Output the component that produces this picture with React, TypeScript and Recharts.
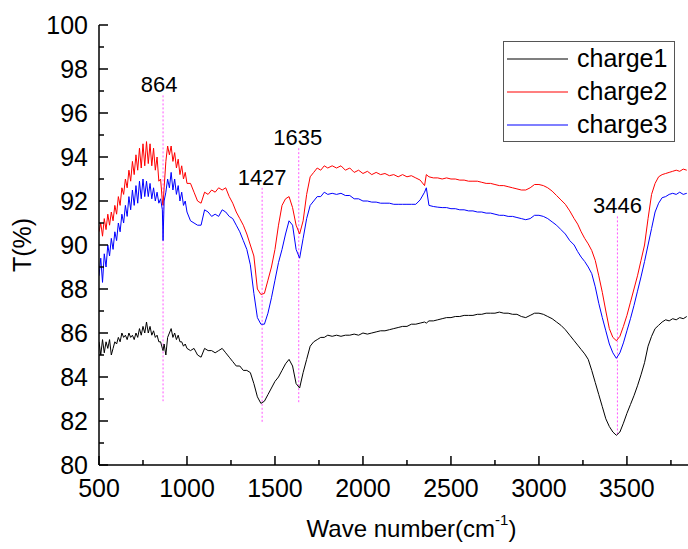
import { LineChart, Line, XAxis, YAxis, ReferenceLine, Legend } from "recharts";

const FONT = "'Liberation Sans', Arial, sans-serif";

// wavenumber grid (cm-1)
const WAVE = [
  500, 510, 520, 530, 540, 550, 560, 570, 580, 590,
  600, 610, 620, 630, 640, 650, 660, 670, 680, 690,
  700, 710, 720, 730, 740, 750, 760, 770, 780, 790,
  800, 810, 820, 830, 840, 850, 860, 864,
  870, 880, 890, 900, 910, 920, 930, 940, 950, 960, 970, 980, 990, 1000,
  1020, 1040, 1060, 1080, 1100, 1120, 1140, 1160, 1180, 1200,
  1220, 1240, 1260, 1280, 1300, 1320, 1340, 1360, 1380, 1400,
  1420, 1440, 1460, 1480, 1500, 1520, 1540, 1560, 1580, 1600,
  1620, 1640, 1660, 1680, 1700, 1720, 1740, 1760, 1780, 1800,
  1825, 1850, 1875, 1900, 1925, 1950, 1975, 2000,
  2025, 2050, 2075, 2100, 2125, 2150, 2175, 2200,
  2225, 2250, 2275, 2300, 2325, 2350, 2360,
  2375, 2400, 2425, 2450, 2475, 2500,
  2525, 2550, 2575, 2600, 2625, 2650, 2675, 2700,
  2725, 2750, 2775, 2800, 2825, 2850, 2875, 2900,
  2925, 2950, 2975, 3000, 3025, 3050, 3075, 3100,
  3125, 3150, 3175, 3200,
  3220, 3240, 3260, 3280, 3300, 3320, 3340, 3360,
  3380, 3400, 3420, 3440, 3460, 3480, 3500, 3520,
  3540, 3560, 3580, 3600, 3620, 3640, 3660, 3680,
  3700, 3720, 3740, 3760, 3780, 3800, 3820, 3840,
];

const CHARGE1 = [
  85.6, 85.0, 85.7, 85.1, 85.6, 85.3, 85.7, 85.0, 85.3, 85.6,
  85.5, 85.8, 85.6, 86.0, 85.8, 85.9, 85.7, 86.0, 85.8, 85.9,
  85.7, 86.0, 85.8, 86.2, 85.9, 86.3, 86.0, 86.5, 86.0, 86.3,
  85.9, 86.1, 85.8, 85.9, 85.6, 85.6, 85.3, 85.2,
  85.5, 85.0, 85.8, 86.0, 86.2, 85.8, 86.0, 85.7, 85.9, 85.6, 85.6, 85.4, 85.5, 85.3,
  85.2, 85.3, 85.0, 84.9, 85.3, 85.2, 85.2, 85.1, 85.2, 85.3,
  85.1, 84.9, 84.7, 84.5, 84.5, 84.3, 84.3, 84.2, 83.7, 83.1,
  82.8, 82.9, 83.2, 83.5, 83.8, 84.0, 84.3, 84.6, 84.8, 84.5,
  83.7, 83.5, 84.2, 84.8, 85.4, 85.6, 85.7, 85.8, 85.8, 85.9,
  85.85, 85.9, 85.85, 85.9, 85.9, 85.95, 85.9, 86.0,
  85.95, 86.0, 86.05, 86.1, 86.1, 86.15, 86.2, 86.25,
  86.3, 86.3, 86.4, 86.4, 86.45, 86.5, 86.45,
  86.55, 86.55, 86.6, 86.65, 86.7, 86.7,
  86.75, 86.75, 86.8, 86.8, 86.8, 86.85, 86.85, 86.9,
  86.9, 86.9, 86.95, 86.9, 86.9, 86.85, 86.85, 86.75,
  86.7, 86.8, 86.9, 86.9, 86.85, 86.75, 86.65, 86.5,
  86.35, 86.15, 85.9, 85.65,
  85.45, 85.25, 85.05, 84.8, 84.3, 83.75, 83.2, 82.65,
  82.1, 81.75, 81.5, 81.35, 81.5, 81.9, 82.35, 82.75,
  83.15, 83.6, 84.1, 84.65, 85.4, 85.85, 86.2, 86.35,
  86.5, 86.6, 86.55, 86.65, 86.6, 86.7, 86.65, 86.75,
];

const CHARGE2 = [
  90.6, 91.0, 90.4, 91.2, 90.7, 91.4, 90.9, 91.5, 91.1, 91.8,
  91.4, 92.2, 91.8, 92.6, 92.3, 93.0, 92.6, 93.4, 92.9, 93.8,
  93.2, 94.1, 93.4, 94.4, 93.5, 94.6, 93.6, 94.7, 93.7, 94.6,
  93.6, 94.4, 93.4, 94.0, 92.9, 93.0, 92.0, 91.8,
  92.6, 93.8, 94.5, 94.1, 94.5, 93.8, 94.2, 93.5, 93.9, 93.2, 93.6, 93.0, 93.3, 92.8,
  92.8, 92.4, 92.0, 91.9, 92.4, 92.3, 92.5, 92.4, 92.6, 92.5,
  92.6, 92.2, 91.9, 91.5, 91.2, 90.9, 90.5, 90.0, 89.5, 88.0,
  87.75, 87.8, 88.4, 89.0, 89.8, 90.9, 91.8, 92.1, 92.2, 91.7,
  90.9, 90.5, 91.1, 92.3, 93.1, 93.3, 93.5, 93.4, 93.6, 93.5,
  93.6, 93.5, 93.6, 93.4, 93.5, 93.3, 93.4, 93.25,
  93.35, 93.2, 93.3, 93.2, 93.25, 93.15, 93.2, 93.1,
  93.2, 93.1, 93.15, 93.05, 92.95, 92.7, 93.2,
  93.1, 93.05, 93.05, 93.0, 93.05, 93.0,
  93.0, 92.95, 92.95, 92.9, 92.9, 92.9, 92.85, 92.8,
  92.8, 92.75, 92.7, 92.7, 92.65, 92.6, 92.55, 92.5,
  92.5, 92.6, 92.75, 92.75, 92.7, 92.6, 92.45, 92.25,
  92.05, 91.85, 91.55, 91.2,
  90.95, 90.6, 90.3, 90.05, 89.75, 89.3, 88.6, 87.85,
  87.0, 86.2, 85.8, 85.65, 85.85, 86.3, 86.8, 87.4,
  88.0, 88.6, 89.3, 90.0, 91.2, 92.3, 92.8, 93.1,
  93.2, 93.25, 93.3, 93.35, 93.4, 93.35, 93.45, 93.4,
];

const CHARGE3 = [
  88.6, 89.4, 88.3, 89.6, 89.0, 90.0, 89.5, 90.3, 89.8, 90.6,
  90.2, 91.0, 90.6, 91.4, 91.0, 91.8, 91.3, 92.2, 91.6, 92.5,
  91.8, 92.7, 91.9, 92.9, 92.1, 93.0, 92.2, 92.9, 92.2, 92.8,
  92.1, 92.6, 92.0, 92.4, 91.9, 92.1, 91.6, 90.2,
  92.0, 92.4, 93.0, 92.6, 93.3, 92.5, 93.0, 92.3, 92.7, 92.0, 92.4, 91.8, 92.0, 91.5,
  91.1, 91.0, 90.9, 90.9, 91.6, 91.5, 91.3, 91.4, 91.3, 91.6,
  91.5, 91.3, 91.2, 90.9, 90.6, 90.2, 89.8, 89.1, 87.8, 86.7,
  86.4, 86.4, 86.9, 87.6, 88.4, 89.2, 89.8, 90.5, 91.1, 90.9,
  89.8, 89.4, 90.3, 91.2, 91.8, 92.0, 92.2, 92.2, 92.4, 92.3,
  92.35, 92.3, 92.35, 92.25, 92.25, 92.1, 92.1, 92.0,
  92.0, 91.95, 91.95, 91.9, 91.9, 91.9, 91.85, 91.85,
  91.85, 91.85, 91.85, 91.85, 92.05, 92.4, 92.6,
  91.8, 91.75, 91.72, 91.7, 91.7, 91.65,
  91.65, 91.6, 91.6, 91.55, 91.55, 91.5, 91.5, 91.45,
  91.45, 91.4, 91.35, 91.35, 91.3, 91.3, 91.25, 91.2,
  91.15, 91.2, 91.35, 91.35, 91.3, 91.2, 91.05, 90.9,
  90.7, 90.5, 90.2, 90.0,
  89.7, 89.45, 89.25, 89.0, 88.7, 88.1, 87.35, 86.7,
  86.1, 85.5, 85.1, 84.85, 85.1, 85.55, 86.1, 86.65,
  87.25, 87.9, 88.55, 89.25, 90.0, 90.75, 91.5, 91.9,
  92.15, 92.2, 92.3, 92.35, 92.3, 92.4, 92.3, 92.35,
];

const X_TICKS = [500, 750, 1000, 1250, 1500, 1750, 2000, 2250, 2500, 2750, 3000, 3250, 3500, 3750];
const Y_TICKS = [80, 81, 82, 83, 84, 85, 86, 87, 88, 89, 90, 91, 92, 93, 94, 95, 96, 97, 98, 99, 100];

// marked peaks: position, dotted line from top to bottom (T%), label nudge in px
const PEAKS = [864, 1427, 1635, 3446];
const PEAK_TOP = [96.8, 92.6, 94.4, 91.3];
const PEAK_BOTTOM = [82.9, 81.9, 82.8, 81.3];
const PEAK_LABEL_DX = [-4, 0, -1, 0];

const SERIES = [
  { key: "c1", name: "charge1", color: "#000000" },
  { key: "c2", name: "charge2", color: "#ff0000" },
  { key: "c3", name: "charge3", color: "#0000ff" },
];

const data = WAVE.map((w, i) => ({ wave: w, c1: CHARGE1[i], c2: CHARGE2[i], c3: CHARGE3[i] }));

const BottomTick = (p: any) => {
  const major = p.payload.value % 500 === 0;
  return (
    <g>
      <line x1={p.x} x2={p.x} y1={p.y} y2={p.y - (major ? 9 : 5)} stroke="#000" strokeWidth={1.5} />
      {major && (
        <text x={p.x} y={p.y + 32} textAnchor="middle" fontSize={25} fontFamily={FONT} fill="#000">
          {p.payload.value}
        </text>
      )}
    </g>
  );
};

const TopTick = (p: any) => {
  const major = p.payload.value % 500 === 0;
  return <line x1={p.x} x2={p.x} y1={p.y} y2={p.y + (major ? 9 : 5)} stroke="#000" strokeWidth={1.5} />;
};

const LeftTick = (p: any) => {
  const major = p.payload.value % 2 === 0;
  return (
    <g>
      <line x1={p.x} x2={p.x + (major ? 9 : 5)} y1={p.y} y2={p.y} stroke="#000" strokeWidth={1.5} />
      {major && (
        <text x={p.x - 11} y={p.y + 9} textAnchor="end" fontSize={25} fontFamily={FONT} fill="#000">
          {p.payload.value}
        </text>
      )}
    </g>
  );
};

const XTitle = (p: any) => {
  const vb = p.viewBox;
  return (
    <text x={vb.x + vb.width / 2 + 18} y={vb.y + 72} textAnchor="middle" fontSize={24} fontFamily={FONT} fill="#000">
      <tspan>Wave number(cm</tspan>
      <tspan dy={-12} fontSize={15}>-1</tspan>
      <tspan dy={12}>)</tspan>
    </text>
  );
};

const YTitle = () => (
  <text x={0} y={0} transform="translate(31,245) rotate(-90)" textAnchor="middle" fontSize={25} fontFamily={FONT} fill="#000">
    T(%)
  </text>
);

const LegendBox = () => (
  <div style={{ border: "1px solid #555", background: "#fff", width: 172, height: 101, boxSizing: "border-box", padding: "0 3px", fontFamily: FONT }}>
    {SERIES.map((s) => (
      <div key={s.key} style={{ display: "flex", alignItems: "center", height: 33 }}>
        <svg width={61} height={4} style={{ display: "block" }}>
          <line x1={0} x2={61} y1={2} y2={2} stroke={s.color} strokeWidth={1.2} />
        </svg>
        <span style={{ marginLeft: 9, fontSize: 25, lineHeight: "25px", color: "#000" }}>{s.name}</span>
      </div>
    ))}
  </div>
);

export default function App() {
  return (
    <div style={{ position: "absolute", left: 0, top: 0, width: 688, height: 549, background: "#fff" }}>
      <LineChart width={688} height={549} data={data} margin={{ top: 25, right: 0, bottom: 0, left: 0 }}>
        <XAxis
          dataKey="wave"
          type="number"
          domain={[500, 3847]}
          allowDataOverflow
          ticks={X_TICKS}
          interval={0}
          height={84}
          tickSize={0}
          tickMargin={0}
          tick={BottomTick}
          axisLine={{ stroke: "#000", strokeWidth: 1.5 }}
          label={XTitle}
        />
        <XAxis
          xAxisId="top"
          orientation="top"
          dataKey="wave"
          type="number"
          domain={[500, 3847]}
          allowDataOverflow
          ticks={X_TICKS}
          interval={0}
          height={0}
          tickSize={0}
          tickMargin={0}
          tick={TopTick}
          axisLine={{ stroke: "#000", strokeWidth: 1.5 }}
        />
        <YAxis
          type="number"
          domain={[80, 100]}
          ticks={Y_TICKS}
          interval={0}
          width={99}
          tickSize={0}
          tickMargin={0}
          tick={LeftTick}
          axisLine={{ stroke: "#000", strokeWidth: 1.5 }}
          label={YTitle}
        />
        {PEAKS.map((w, i) => (
          <ReferenceLine
            key={w}
            segment={[{ x: w, y: PEAK_TOP[i] }, { x: w, y: PEAK_BOTTOM[i] }]}
            stroke="#ff55ff"
            strokeDasharray="2 2"
            strokeWidth={1}
            label={(p: any) => (
              <text x={p.viewBox.x + PEAK_LABEL_DX[i]} y={p.viewBox.y - 3} textAnchor="middle" fontSize={22} fontFamily={FONT} fill="#000">
                {w}
              </text>
            )}
          />
        ))}
        {SERIES.map((s) => (
          <Line
            key={s.key}
            dataKey={s.key}
            name={s.name}
            type="linear"
            stroke={s.color}
            strokeWidth={1}
            dot={false}
            activeDot={false}
            isAnimationActive={false}
          />
        ))}
        <Legend
          layout="vertical"
          align="center"
          verticalAlign="middle"
          content={LegendBox}
          wrapperStyle={{ position: "absolute", left: 503, top: 41, width: 172, height: 101 }}
        />
      </LineChart>
    </div>
  );
}
